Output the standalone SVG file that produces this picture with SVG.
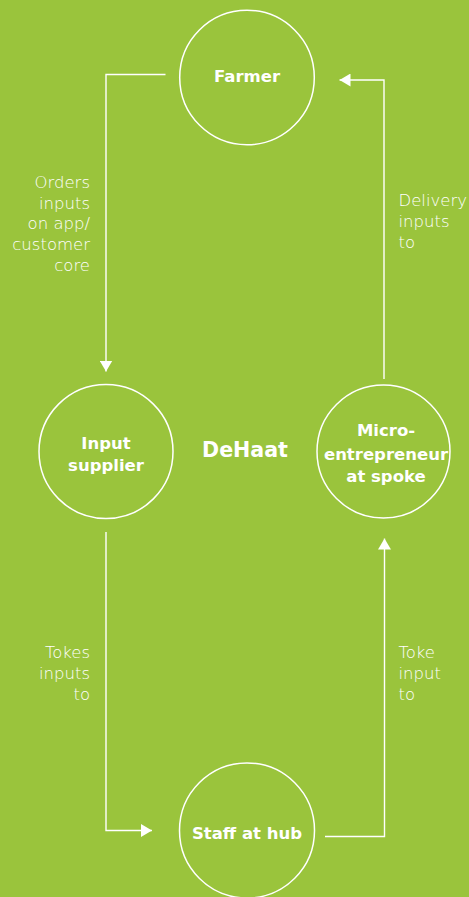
<svg xmlns="http://www.w3.org/2000/svg" width="469" height="897" viewBox="0 0 469 897">
  <style>
    .node circle { fill: none; stroke: #ffffff; stroke-width: 1.5; }
    .node text, .title { fill: #ffffff; font-family: "DejaVu Sans", "Liberation Sans", sans-serif; font-weight: bold; text-anchor: middle; }
    .node text { font-size: 16.5px; }
    .title { font-size: 20.6px; }
    .edge { fill: none; stroke: #ffffff; stroke-width: 1.4; }
    .label { fill: #ffffff; font-family: "DejaVu Sans", "Liberation Sans", sans-serif; font-weight: 200; font-size: 16.5px; }
    .right { text-anchor: end; }
  </style>
  <defs>
    <marker id="arrow" viewBox="0 0 11 13" refX="11" refY="6.5" markerWidth="11" markerHeight="13" markerUnits="userSpaceOnUse" orient="auto">
      <path d="M0,0 L11,6.5 L0,13 Z" fill="#ffffff"/>
    </marker>
  </defs>

  <rect width="469" height="897" fill="#9ac43c"/>

  <!-- connectors -->
  <g id="connectors">
    <polyline class="edge" points="165.5,74.5 106,74.5 106,371.5" marker-end="url(#arrow)"/>
    <polyline class="edge" points="384,379 384,80 339.5,80" marker-end="url(#arrow)"/>
    <polyline class="edge" points="106,532 106,830.5 152,830.5" marker-end="url(#arrow)"/>
    <polyline class="edge" points="325,836.5 384.5,836.5 384.5,538.5" marker-end="url(#arrow)"/>
  </g>

  <!-- connector labels -->
  <g id="edge-labels">
    <text class="label right" x="90" y="188">Orders</text>
    <text class="label right" x="90" y="208.7">inputs</text>
    <text class="label right" x="90" y="229.4">on app/</text>
    <text class="label right" x="90" y="250.1">customer</text>
    <text class="label right" x="90" y="270.8">core</text>

    <text class="label" x="398.5" y="206">Delivery</text>
    <text class="label" x="398.5" y="227">inputs</text>
    <text class="label" x="398.5" y="248">to</text>

    <text class="label right" x="90" y="658">Tokes</text>
    <text class="label right" x="90" y="679">inputs</text>
    <text class="label right" x="90" y="700">to</text>

    <text class="label" x="398.5" y="658">Toke</text>
    <text class="label" x="398.5" y="679">input</text>
    <text class="label" x="398.5" y="700">to</text>
  </g>

  <!-- nodes -->
  <g id="farmer" class="node">
    <circle cx="247" cy="77.5" r="67.3"/>
    <text x="247" y="82">Farmer</text>
  </g>

  <g id="input-supplier" class="node">
    <circle cx="106" cy="451.5" r="67"/>
    <text x="106" y="449">Input</text>
    <text x="106" y="471">supplier</text>
  </g>

  <g id="micro-entrepreneur" class="node">
    <circle cx="383.5" cy="451.5" r="66.5"/>
    <text x="386" y="435.5">Micro-</text>
    <text x="386" y="460">entrepreneur</text>
    <text x="386" y="482">at spoke</text>
  </g>

  <g id="staff-at-hub" class="node">
    <circle cx="247" cy="830.5" r="67.5"/>
    <text x="247" y="839">Staff at hub</text>
  </g>

  <text id="dehaat" class="title" x="245" y="457">DeHaat</text>
</svg>
